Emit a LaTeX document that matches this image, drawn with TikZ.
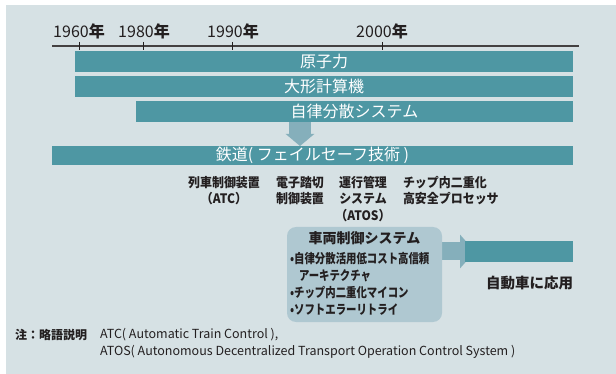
\documentclass[tikz,border=0pt]{standalone}
\usepackage{fontspec}
\setmainfont{Noto Sans CJK JP}
\newfontfamily\jpc[FakeStretch=0.8]{Noto Sans CJK JP}
\newfontfamily\jpl[FakeStretch=0.92]{Noto Sans CJK JP}
\usetikzlibrary{arrows.meta,backgrounds}
\definecolor{bgc}{RGB}{214,225,228}
\definecolor{barc}{RGB}{78,151,163}
\definecolor{arrc}{RGB}{133,175,187}
\definecolor{boxc}{RGB}{175,200,209}
\definecolor{txt}{RGB}{35,31,32}
\begin{document}
\begin{tikzpicture}[x=1pt,y=-1pt,
  every node/.style={inner sep=0pt, outer sep=0pt, text=txt},
  bar/.style={fill=barc, anchor=north west, text=white, font=\fontsize{16}{16}\selectfont},
  yearlbl/.style={anchor=base, font=\fontsize{16}{16}\selectfont},
  tickline/.style={line width=0.8pt, draw=txt},
  techlbl/.style={anchor=north, align=center, font=\jpl\bfseries\fontsize{13}{16.5}\selectfont},
  techlbll/.style={anchor=north west, align=left, font=\jpl\bfseries\fontsize{13}{16.5}\selectfont},
  bullet/.style={anchor=west, font=\jpc\bfseries\fontsize{13}{13}\selectfont},
  fatarrow/.style={draw=arrc},
  notejp/.style={anchor=west, font=\bfseries\fontsize{12}{12}\selectfont},
  noteen/.style={anchor=west, font=\fontsize{12.5}{12.5}\selectfont}
]
\useasboundingbox (0,0) rectangle (616,374);

% time axis
\node[yearlbl] (y1960) at (79,38) {1960\textbf{年}};
\node[yearlbl] (y1980) at (144,38) {1980\textbf{年}};
\node[yearlbl] (y1990) at (233,38) {1990\textbf{年}};
\node[yearlbl] (y2000) at (382,38) {2000\textbf{年}};
\draw[line width=2pt, draw=txt!85] (52,46) -- (579,46);
\draw[tickline] (79,42) -- (79,50);
\draw[tickline] (143.5,42) -- (143.5,50);
\draw[tickline] (232.5,42) -- (232.5,50);
\draw[tickline] (382,42) -- (382,50);

% bars
\node[bar, minimum width=498pt, minimum height=21pt] (genshi) at (75,51) {原子力};
\node[bar, minimum width=498pt, minimum height=21pt] (ogata) at (75,76) {大形計算機};
\node[bar, minimum width=437pt, minimum height=21pt] (jiritsu) at (136,101) {自律分散システム};
\node[bar, minimum width=521pt, minimum height=19pt] (tetsudo) at (52,146) {鉄道( フェイルセーフ技術 )};

% technologies
\node[techlbl] (atc) at (224,176) {列車制御装置\\（ATC）};
\node[techlbl] (fumikiri) at (300,176) {電子踏切\\制御装置};
\node[techlbl] (atos) at (363,176) {運行管理\\システム\\（ATOS）};
\node[techlbll] (chip) at (403,176) {チップ内二重化\\高安全プロセッサ};

% vehicle control box
\node[fill=boxc, rounded corners=9pt, anchor=north west, minimum width=155pt, minimum height=95pt] (box) at (287,227) {};
\node[anchor=center, font=\bfseries\fontsize{14}{14}\selectfont] (boxtitle) at (364.5,238) {車両制御システム};
\node[bullet] (b1) at (290,259) {•自律分散活用低コスト高信頼};
\node[bullet] (b1b) at (299,275.5) {アーキテクチャ};
\node[bullet] (b2) at (290,292.5) {•チップ内二重化マイコン};
\node[bullet] (b3) at (290,310) {•ソフトエラーリトライ};

% automobile
\node[bar, minimum width=108pt, minimum height=21pt] (auto) at (465,241) {};
\node[anchor=east, font=\bfseries\fontsize{14.5}{14.5}\selectfont] (autolbl) at (573,283) {自動車に応用};

% notes
\node[notejp] (notehd) at (15,335) {注：略語説明};
\node[noteen] (note1) at (100,335) {ATC( Automatic Train Control ),};
\node[noteen] (note2) at (100,352) {ATOS( Autonomous Decentralized Transport Operation Control System )};

\coordinate (dax) at (300,0);
\begin{scope}[on background layer]
  \fill[bgc] (6,5) rectangle (616,374);
  \draw[fatarrow, line width=22pt, -{Triangle[length=12pt,width=28pt]}]
    (dax |- jiritsu.south) -- (dax |- tetsudo.north);
  \draw[fatarrow, line width=18pt, -{Triangle[length=15pt,width=33pt]}]
    (box.east |- auto.west) -- ([xshift=10pt]auto.west);
\end{scope}
\end{tikzpicture}
\end{document}
